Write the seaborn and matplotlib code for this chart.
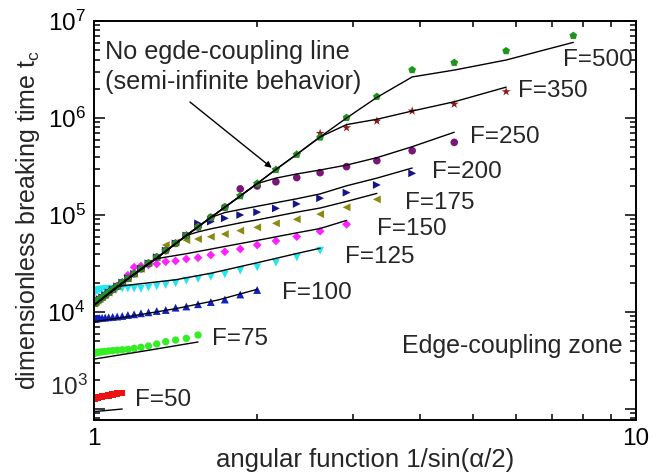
import math
import matplotlib
matplotlib.use("Agg")
import matplotlib.pyplot as plt
import seaborn as sns
import pandas as pd
from matplotlib.ticker import FixedLocator, FuncFormatter, NullFormatter

# ---------------- data ----------------
# x = 1/sin(alpha/2) for alpha = 180, 175, ..., 15 degrees
x_grid = [1.0000, 1.0010, 1.0038, 1.0086, 1.0154, 1.0243, 1.0353, 1.0485, 1.0642,
          1.0824, 1.1034, 1.1274, 1.1547, 1.1857, 1.2208, 1.2605, 1.3054, 1.3563,
          1.4142, 1.4802, 1.5557, 1.6427, 1.7434, 1.8612, 2.0000, 2.1657, 2.3662,
          2.6131, 2.9238, 3.3255, 3.8637, 4.6202, 5.7588, 7.6613]

# points lying on the no-edge-coupling line (shared start of the big-F series)
on_line = [12300, 12350, 12490, 12740, 13100, 13570, 14180, 14940, 15870, 17020,
           18410, 20110, 22180, 24730, 27870, 31780, 36680, 42910, 50940, 61400,
           75310, 94120, 120100, 157100, 210900, 292300, 420200, 631300, 1006000,
           1660000, 3130000]

y_F500 = on_line[:31] + [3720000, 4910000, 7050000]
y_F350 = on_line[:27] + [695000, 794000, 931000, 1180000, 1390000, 1870000]
y_F250 = on_line[:23] + [186000, 199000, 220000, 243000, 273000, 315000, 363000,
                         460000, 561000]
y_F200 = on_line[:20] + [82000, 85500, 92500, 100000, 107000, 117000, 130000,
                         149000, 170000, 204000, 269000]
y_F175 = on_line[:17] + [49000, 52000, 55000, 56500, 59700, 63600, 68900, 74600,
                         82100, 90300, 102000, 120000, 145000]
y_F150 = on_line[:12] + [24000, 29000, 29800, 30500, 31300, 33000, 33600, 35200,
                         36300, 38700, 41800, 44600, 49100, 54000, 59800, 68000, 80200]
y_F125 = [15500, 15800, 16100, 16400, 16700, 16900, 17100, 17200, 17300, 17400,
          17450, 17460, 17460, 17460, 17380, 17900, 18420, 18980, 19760, 21020,
          21870, 23100, 24500, 26700, 28900, 32200, 36600, 42850]
y_F100 = [8470, 8500, 8530, 8570, 8610, 8660, 8710, 8770, 8830, 8900, 8980, 9100,
          9310, 9470, 9700, 9930, 10240, 10490, 11080, 11400, 12030, 12670, 13450,
          15150, 16870]
y_F75 = [3750, 3760, 3780, 3800, 3830, 3860, 3890, 3920, 3960, 4000, 4040, 4080,
         4120, 4220, 4330, 4460, 4680, 4940, 5140, 5350, 5790]
y_F50 = [1270, 1280, 1290, 1300, 1310, 1325, 1340, 1360, 1380, 1410, 1440, 1470]

# model lines
main_x = [1.0, 1.1547, 1.3054, 1.4802, 1.6427, 1.8612, 2.0, 2.1657, 2.3662, 2.6131,
          2.9238, 3.3255, 3.8637]
main_y = [11800, 22000, 36000, 61500, 94500, 157000, 211000, 295000, 422000, 638000,
          1000000, 1630000, 2650000]
l500_x = main_x + [4.6202, 5.7588, 7.6613]
l500_y = main_y + [3120000, 3960000, 6020000]
l350_x = main_x[:10] + [2.9238, 3.3255, 3.8637, 4.6202, 5.7588]
l350_y = main_y[:10] + [855000, 970000, 1180000, 1470000, 2080000]
l250_x = main_x[:7] + [2.1657, 2.3662, 2.6131, 2.9238, 3.3255, 3.8637, 4.6202]
l250_y = main_y[:7] + [240000, 265000, 291000, 327000, 390000, 506000, 713000]
l200_x = main_x[:5] + [1.7434, 1.8612, 2.0, 2.3662, 2.6131, 2.9238, 3.3255, 3.8637]
l200_y = main_y[:5] + [106000, 114000, 123000, 147000, 165000, 200000, 240000, 305000]
l175_x = main_x[:4] + [1.5557, 1.6427, 1.7434, 1.8612, 2.0, 2.3662, 2.6131, 2.9238, 3.3255]
l175_y = main_y[:4] + [67000, 72000, 77000, 83000, 89000, 107000, 118000, 138000, 167000]
l150_x = [1.0, 1.1547, 1.2605, 1.3054, 1.4802, 1.7434, 2.0, 2.3662, 2.6131, 2.9238]
l150_y = [11800, 22000, 31800, 35500, 39900, 47400, 54700, 65500, 72500, 88000]
l125_x = [1.0, 1.1034, 1.1547, 1.4142, 1.6427, 2.0, 2.3662, 2.6131]
l125_y = [11800, 18400, 18900, 21500, 25100, 32200, 40100, 45400]
l100_x = [1.0, 1.1547, 1.4142, 1.694, 2.0]
l100_y = [7940, 8950, 10820, 13300, 17150]
l75_x = [1.0, 1.2605, 1.5557]
l75_y = [3270, 4030, 4910]
l50_x = [1.0, 1.1274]
l50_y = [940, 1000]

labels = ["F=50", "F=75", "F=100", "F=125", "F=150", "F=175", "F=200", "F=250",
          "F=350", "F=500"]

# ---------------- style ----------------
sns.set_style("ticks")
plt.rcParams['font.family'] = ['Liberation Sans', 'DejaVu Sans']
plt.rcParams['mathtext.fontset'] = 'custom'
plt.rcParams['mathtext.rm'] = 'Liberation Sans'
plt.rcParams['mathtext.it'] = 'Liberation Sans:italic'
plt.rcParams['mathtext.bf'] = 'Liberation Sans:bold'

fig = plt.figure(figsize=(6.63, 4.76), dpi=100)
ax = fig.add_axes([0.1418, 0.1176, 0.8175, 0.8383])

series = [
    (y_F50, 's', '#ee1111', 22),
    (y_F75, 'o', '#33ee22', 28),
    (y_F100, '^', '#1020c0', 32),
    (y_F125, 'v', '#22e6f0', 32),
    (y_F150, 'D', '#ff22ff', 20),
    (y_F175, '<', '#8a8a10', 32),
    (y_F200, '>', '#15158a', 32),
    (y_F250, 'o', '#7a167a', 30),
    (y_F350, '*', '#8e1a1a', 45),
    (y_F500, 'p', '#1e961e', 34),
]
for ys, mk, col, sz in series:
    df = pd.DataFrame({"x": x_grid[:len(ys)], "y": ys})
    sns.scatterplot(data=df, x="x", y="y", marker=mk, color=col, s=sz,
                    edgecolor='none', linewidth=0, ax=ax, legend=False, zorder=2)

lines = [(l50_x, l50_y), (l75_x, l75_y), (l100_x, l100_y), (l125_x, l125_y),
         (l150_x, l150_y), (l175_x, l175_y), (l200_x, l200_y), (l250_x, l250_y),
         (l350_x, l350_y), (l500_x, l500_y)]
for lx, ly in lines:
    df = pd.DataFrame({"x": lx, "y": ly})
    sns.lineplot(data=df, x="x", y="y", color='black', lw=1.0, sort=False,
                 estimator=None, ax=ax, legend=False, zorder=3)

ax.set_xscale('log')
ax.set_yscale('log')
ax.set_xlim(1, 10)
ax.set_ylim(770, 1e7)

ax.xaxis.set_major_locator(FixedLocator([1, 10]))
ax.xaxis.set_minor_locator(FixedLocator([2, 3, 4, 5, 6, 7, 8, 9]))
ax.xaxis.set_major_formatter(FuncFormatter(lambda v, p: "%d" % round(v)))
ax.xaxis.set_minor_formatter(NullFormatter())
ax.yaxis.set_major_locator(FixedLocator([1e3, 1e4, 1e5, 1e6, 1e7]))
minors = [m * 10 ** e for e in range(2, 7) for m in range(2, 10)]
ax.yaxis.set_minor_locator(FixedLocator(minors))


def yfmt(v, p):
    e = int(round(math.log10(v)))
    if e == 3:
        return ""
    return r"$10^{%d}$" % e


ax.yaxis.set_major_formatter(FuncFormatter(yfmt))
ax.yaxis.set_minor_formatter(NullFormatter())
ax.annotate(r"$10^{3}$", xy=(0, 1e3), xycoords=('axes fraction', 'data'),
            xytext=(-6, 22), textcoords='offset pixels', ha='right', va='center',
            fontsize=17.5)

ax.tick_params(which='both', direction='in', top=True, right=True, width=1.1,
               colors='black', labelsize=17.5)
ax.tick_params(which='major', length=8, pad=6)
ax.tick_params(which='minor', length=4)
for sp in ax.spines.values():
    sp.set_linewidth(1.4)
    sp.set_color('black')

ax.set_xlabel(u"angular function 1/sin(\u03b1/2)", fontsize=18.5, labelpad=-2)
ax.set_ylabel(r"dimensionless breaking time t$_{\mathrm{c}}$", fontsize=18,
              labelpad=4)

lab_pos = [(0.0756, 0.050), (0.218, 0.203), (0.347, 0.318), (0.463, 0.409),
           (0.522, 0.479), (0.574, 0.544), (0.624, 0.622), (0.694, 0.709),
           (0.782, 0.825), (0.865, 0.902)]
for t, (px, py) in zip(labels, lab_pos):
    ax.text(px, py, t, transform=ax.transAxes, fontsize=17.5, ha='left', va='center')

ax.text(0.568, 0.185, "Edge-coupling zone", transform=ax.transAxes, fontsize=18,
        ha='left', va='center')
ax.text(0.0203, 0.922, "No egde-coupling line", transform=ax.transAxes,
        fontsize=18.2, ha='left', va='center')
ax.text(0.0203, 0.847, "(semi-infinite behavior)", transform=ax.transAxes,
        fontsize=18.2, ha='left', va='center')
ax.annotate("", xy=(0.328, 0.632), xytext=(0.177, 0.797), xycoords='axes fraction',
            textcoords='axes fraction',
            arrowprops=dict(arrowstyle='-|>', color='black', lw=1.0,
                            mutation_scale=9, shrinkA=0, shrinkB=0))

fig.savefig("out.png", dpi=100)
